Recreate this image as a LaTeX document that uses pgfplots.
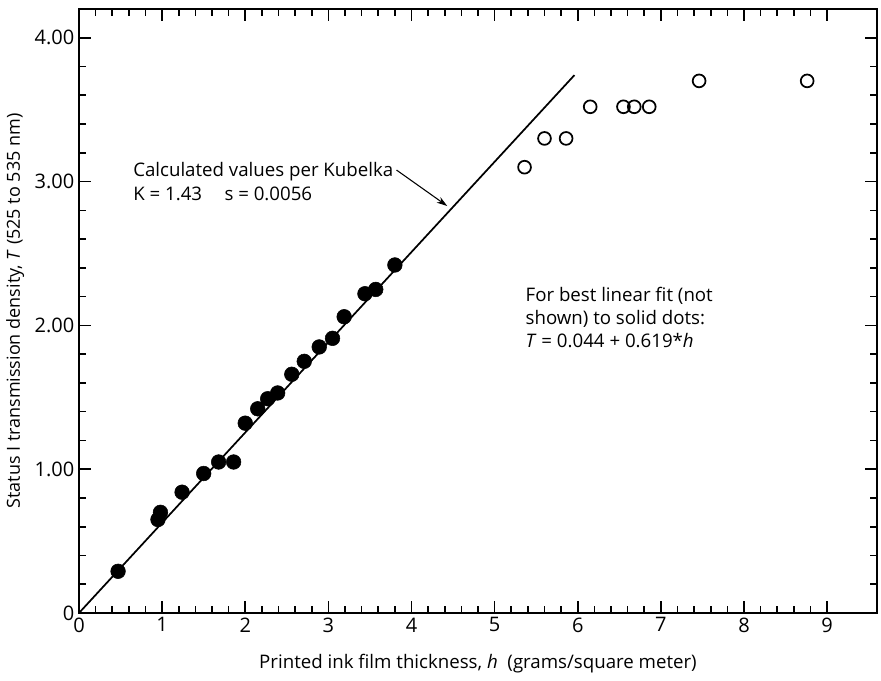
\documentclass[border=0pt]{standalone}
\usepackage{fontspec}
\setmainfont{Open Sans}
\usepackage{pgfplots}
\pgfplotsset{compat=1.18}
\usetikzlibrary{arrows.meta}

\begin{document}
\begin{tikzpicture}
\useasboundingbox (-59.25pt,-51pt) rectangle (601.5pt,459.75pt);
\begin{axis}[
	scale only axis,
	width=598.5pt, height=453pt,
	xmin=0, xmax=9.6, ymin=0, ymax=4.2,
	xtick={0,1,...,9}, minor x tick num=4,
	ytick={0,1,2,3,4}, yticklabels={0,1.00,2.00,3.00,4.00},
	minor y tick num=4,
	tick align=inside,
	major tick length=9pt, minor tick length=5pt,
	axis line style={line width=1.6pt},
	every tick/.style={black, line width=1.2pt},
	tick label style={font=\fontsize{15}{16}\selectfont},
	/pgf/number format/assume math mode=true,
	xlabel={Printed ink film thickness, \textit{h}\ \ (grams/square meter)},
	ylabel={Status I transmission density, \textit{T} (525 to 535 nm)},
	xlabel style={font=\fontsize{14}{16}\selectfont, at={(axis description cs:0.5,-0.083)}, anchor=center},
	ylabel style={font=\fontsize{13.5}{16}\selectfont, at={(axis description cs:-0.08,0.5)}, anchor=center},
	clip=false,
]
% Kubelka curve
\addplot[black, line width=1.3pt] coordinates {(0,0) (5.96,3.74)};

% solid dots
\addplot[only marks, mark=*, mark size=5.5pt, black] coordinates {
	(0.47,0.29) (0.95,0.65) (0.98,0.70) (1.24,0.84) (1.50,0.97)
	(1.68,1.05) (1.86,1.05) (2.00,1.32) (2.15,1.42) (2.27,1.49)
	(2.39,1.53) (2.56,1.66) (2.71,1.75) (2.89,1.85) (3.05,1.91)
	(3.19,2.06) (3.44,2.22) (3.57,2.25) (3.80,2.42)
};

% open circles
\addplot[only marks, mark=o, mark size=4.8pt, black, mark options={line width=1.3pt}] coordinates {
	(5.36,3.10) (5.60,3.30) (5.86,3.30) (6.15,3.52) (6.55,3.52)
	(6.68,3.52) (6.86,3.52) (7.46,3.70) (8.76,3.70)
};

\node[anchor=west, align=left, inner sep=0pt, font=\fontsize{14}{17.5}\selectfont]
	at (axis cs:0.65,3.0) {Calculated values per Kubelka\\K = 1.43\hspace{1.2em}s = 0.0056};
\draw[-{Stealth[length=8pt,width=5pt]}, line width=0.8pt] (axis cs:3.82,3.08) -- (axis cs:4.43,2.83);

\node[anchor=north west, align=left, inner sep=0pt, font=\fontsize{14}{17.5}\selectfont]
	at (axis cs:5.37,2.27) {For best linear fit (not\\shown) to solid dots:\\\textit{T} = 0.044 + 0.619*\textit{h}};
\end{axis}
\end{tikzpicture}
\end{document}
